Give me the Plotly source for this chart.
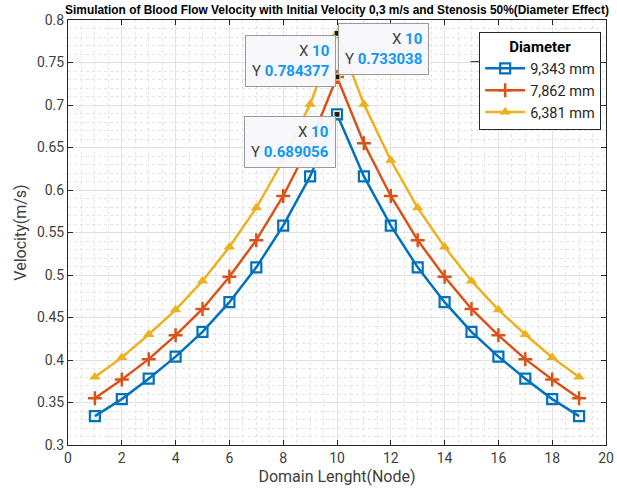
import plotly.graph_objects as go

nodes = list(range(1, 20))
v_9343 = [0.334, 0.354, 0.378, 0.404, 0.433, 0.468, 0.509, 0.558, 0.616, 0.689056,
          0.616, 0.558, 0.509, 0.468, 0.433, 0.404, 0.378, 0.354, 0.334]
v_7862 = [0.355, 0.377, 0.401, 0.429, 0.460, 0.498, 0.541, 0.593, 0.655, 0.733038,
          0.655, 0.593, 0.541, 0.498, 0.460, 0.429, 0.401, 0.377, 0.355]
v_6381 = [0.380, 0.403, 0.430, 0.459, 0.493, 0.533, 0.579, 0.635, 0.701, 0.784377,
          0.701, 0.635, 0.579, 0.533, 0.493, 0.459, 0.430, 0.403, 0.380]
names = ["9,343 mm", "7,862 mm", "6,381 mm"]
colors = ["#0072BD", "#D95319", "#EDB120"]

fig = go.Figure()
fig.add_trace(go.Scatter(x=nodes, y=v_9343, name=names[0], mode="lines+markers",
                         line=dict(color=colors[0], width=2.5),
                         marker=dict(symbol="square-open", size=10, color=colors[0],
                                     line=dict(width=2.2, color=colors[0]))))
fig.add_trace(go.Scatter(x=nodes, y=v_7862, name=names[1], mode="lines+markers",
                         line=dict(color=colors[1], width=2.5),
                         marker=dict(symbol="cross-thin", size=10, color=colors[1],
                                     line=dict(width=2.5, color=colors[1]))))
fig.add_trace(go.Scatter(x=nodes, y=v_6381, name=names[2], mode="lines+markers",
                         line=dict(color=colors[2], width=2.5),
                         marker=dict(symbol="triangle-up", size=10, color=colors[2])))

# datatip markers at peak node
peak_i = 9
tips = [(nodes[peak_i], v_6381[peak_i]), (nodes[peak_i], v_7862[peak_i]), (nodes[peak_i], v_9343[peak_i])]
fig.add_trace(go.Scatter(x=[t[0] for t in tips], y=[t[1] for t in tips], mode="markers",
                         showlegend=False, hoverinfo="skip",
                         marker=dict(symbol="square", size=6, color="#1a1a1a",
                                     line=dict(width=1.2, color="#f2e6a0"))))

val_col = "#1297F5"
lab_col = "#404040"
def tip_text(x, y):
    return (f"<span style='color:{lab_col}'>X </span><b><span style='color:{val_col}'>{x}</span></b><br>"
            f"<span style='color:{lab_col}'>Y </span><b><span style='color:{val_col}'>{y:.6f}</span></b>")

tip_specs = [
    (tips[0], "right", "top", -1, -2),
    (tips[1], "left", "bottom", 1, 2),
    (tips[2], "right", "top", -1, -2),
]
for (tx, ty), xa, ya, xs, ys in tip_specs:
    fig.add_annotation(x=tx, y=ty, xref="x", yref="y", text=tip_text(tx, ty),
                       showarrow=False, xanchor=xa, yanchor=ya, xshift=xs, yshift=ys,
                       align="right", bgcolor="rgba(248,248,252,0.95)",
                       bordercolor="#9a9a9a", borderwidth=1, borderpad=6,
                       font=dict(family="Roboto", size=15, color=lab_col))

# legend title separator
fig.add_shape(type="line", xref="paper", yref="paper", x0=0.748, x1=0.99, y0=0.902, y1=0.902,
              line=dict(color="#262626", width=1))

axis_common = dict(showline=True, linecolor="#262626", linewidth=1, mirror="ticks",
                   ticks="inside", ticklen=5, tickcolor="#262626", automargin=False,
                   showgrid=True, gridcolor="#e2e2e2", gridwidth=1, zeroline=False,
                   tickfont=dict(family="Roboto", size=14, color="#404040"))

fig.update_layout(
    width=617, height=494,
    margin=dict(l=68, r=11, t=20, b=49, autoexpand=False),
    paper_bgcolor="white", plot_bgcolor="white",
    title=dict(text="<b>Simulation of Blood Flow Velocity with Initial Velocity 0,3 m/s and Stenosis 50%(Diameter Effect)</b>",
               x=0.5, xref="paper", xanchor="center", y=0.981, yref="container", yanchor="middle",
               font=dict(family="Liberation Sans", size=11.9, color="#000000")),
    xaxis=dict(range=[0, 20], dtick=2, tick0=0,
               title=dict(text="Domain Lenght(Node)", font=dict(family="Roboto", size=16, color="#404040"), standoff=6),
               minor=dict(dtick=0.5, showgrid=True, gridcolor="#e4e4e4", griddash="dot", ticks=""),
               **axis_common),
    yaxis=dict(range=[0.3, 0.8], dtick=0.05, tick0=0.3,
               title=dict(text="Velocity(m/s)", font=dict(family="Roboto", size=16, color="#404040"), standoff=6),
               minor=dict(dtick=0.01, showgrid=True, gridcolor="#e4e4e4", griddash="dot", ticks=""),
               **axis_common),
    legend=dict(x=0.991, xanchor="right", y=0.972, yanchor="top",
                bgcolor="white", bordercolor="#262626", borderwidth=1,
                title=dict(text="<b>Diameter</b>", side="top center",
                           font=dict(family="Roboto", size=15, color="#000000")),
                font=dict(family="Roboto", size=14.5, color="#262626"),
                tracegroupgap=0, itemwidth=40),
    showlegend=True,
)

fig.write_html("out.html", config={"displayModeBar": False},
               post_script="document.body.style.margin='0';")
